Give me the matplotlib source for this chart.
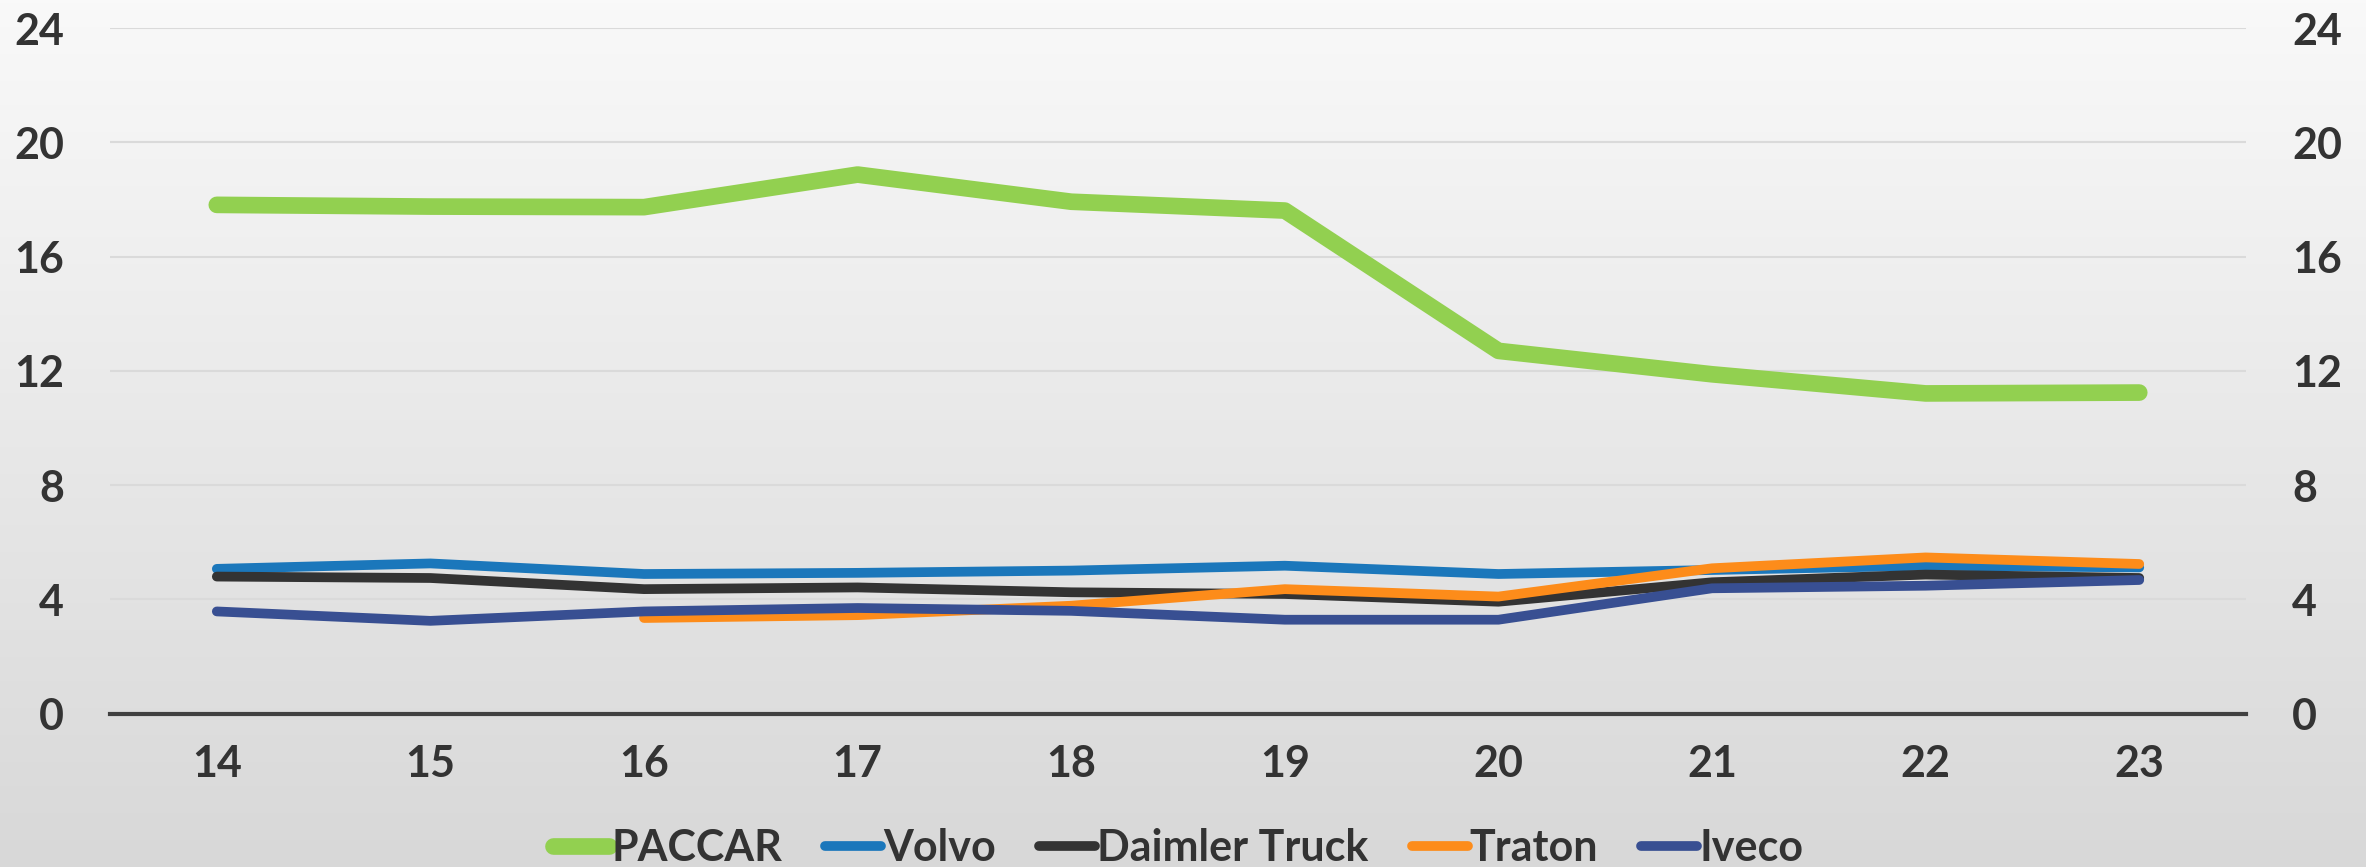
import matplotlib
matplotlib.use('Agg')
import matplotlib.pyplot as plt
import numpy as np

plt.rc('font', family=['Lato', 'DejaVu Sans'])

years = ['14', '15', '16', '17', '18', '19', '20', '21', '22', '23']
paccar = [17.81, 17.75, 17.73, 18.87, 17.92, 17.61, 12.70, 11.88, 11.21, 11.24]
volvo = [5.07, 5.26, 4.89, 4.93, 5.01, 5.18, 4.89, 5.03, 5.18, 5.12]
daimler = [4.80, 4.75, 4.36, 4.42, 4.25, 4.19, 3.92, 4.60, 4.87, 4.75]
traton = [None, None, 3.35, 3.45, 3.78, 4.36, 4.10, 5.09, 5.47, 5.24]
iveco = [3.58, 3.25, 3.58, 3.70, 3.60, 3.29, 3.29, 4.39, 4.48, 4.68]

TEXT = '#333333'

fig = plt.figure(figsize=(23.66, 8.67), dpi=100)

# background gradient, light at the top and grey at the bottom
bg = fig.add_axes([0, 0, 1, 1], zorder=-1)
grad = np.linspace(0, 1, 256).reshape(-1, 1)
bg.imshow(grad, aspect='auto', cmap=matplotlib.colors.LinearSegmentedColormap.from_list(
    'bg', ['#f9f9f9', '#d8d8d8']), extent=[0, 1, 0, 1])
bg.axis('off')

ax = fig.add_axes([0.0465, 0.1768, 0.9028, 0.7909])
ax.patch.set_alpha(0)

x = np.arange(len(years))
tr = np.array([np.nan if v is None else v for v in traton])

ax.plot(x, paccar, color='#92d050', lw=12, solid_capstyle='round', label='PACCAR')
ax.plot(x, volvo, color='#1b77bb', lw=7, solid_capstyle='round', label='Volvo')
ax.plot(x, daimler, color='#333333', lw=7, solid_capstyle='round', label='Daimler Truck')
ax.plot(x, tr, color='#fd8c1a', lw=7, solid_capstyle='round', label='Traton')
ax.plot(x, iveco, color='#384f92', lw=7, solid_capstyle='round', label='Iveco')

ax.set_xlim(-0.5, len(years) - 0.5)
ax.set_ylim(0, 24)
ax.set_yticks(np.arange(0, 25, 4))
ax.set_xticks(x)
ax.set_xticklabels(years)

ax.grid(axis='y', color='#dadada', lw=1.5)
ax.set_axisbelow(True)
for s in ['top', 'right', 'left']:
    ax.spines[s].set_visible(False)
ax.spines['bottom'].set_color('#404040')
ax.spines['bottom'].set_linewidth(3)

ax.tick_params(axis='y', length=0, pad=33, labelleft=True, labelright=True,
               labelsize=31, labelcolor=TEXT)
ax.tick_params(axis='x', length=0, pad=22, labelsize=31, labelcolor=TEXT)
for lab in ax.get_xticklabels() + ax.get_yticklabels():
    lab.set_fontweight('bold')
for t in ax.yaxis.get_major_ticks():
    t.label2.set_fontweight('bold')

leg = fig.legend(loc='center', bbox_to_anchor=(0.498, 0.022), ncol=5, frameon=False,
                 handlelength=1.3, handletextpad=0.05, columnspacing=1.0,
                 prop={'weight': 'bold', 'size': 31})
for t in leg.get_texts():
    t.set_color(TEXT)

fig.savefig('out.png', dpi=100)
